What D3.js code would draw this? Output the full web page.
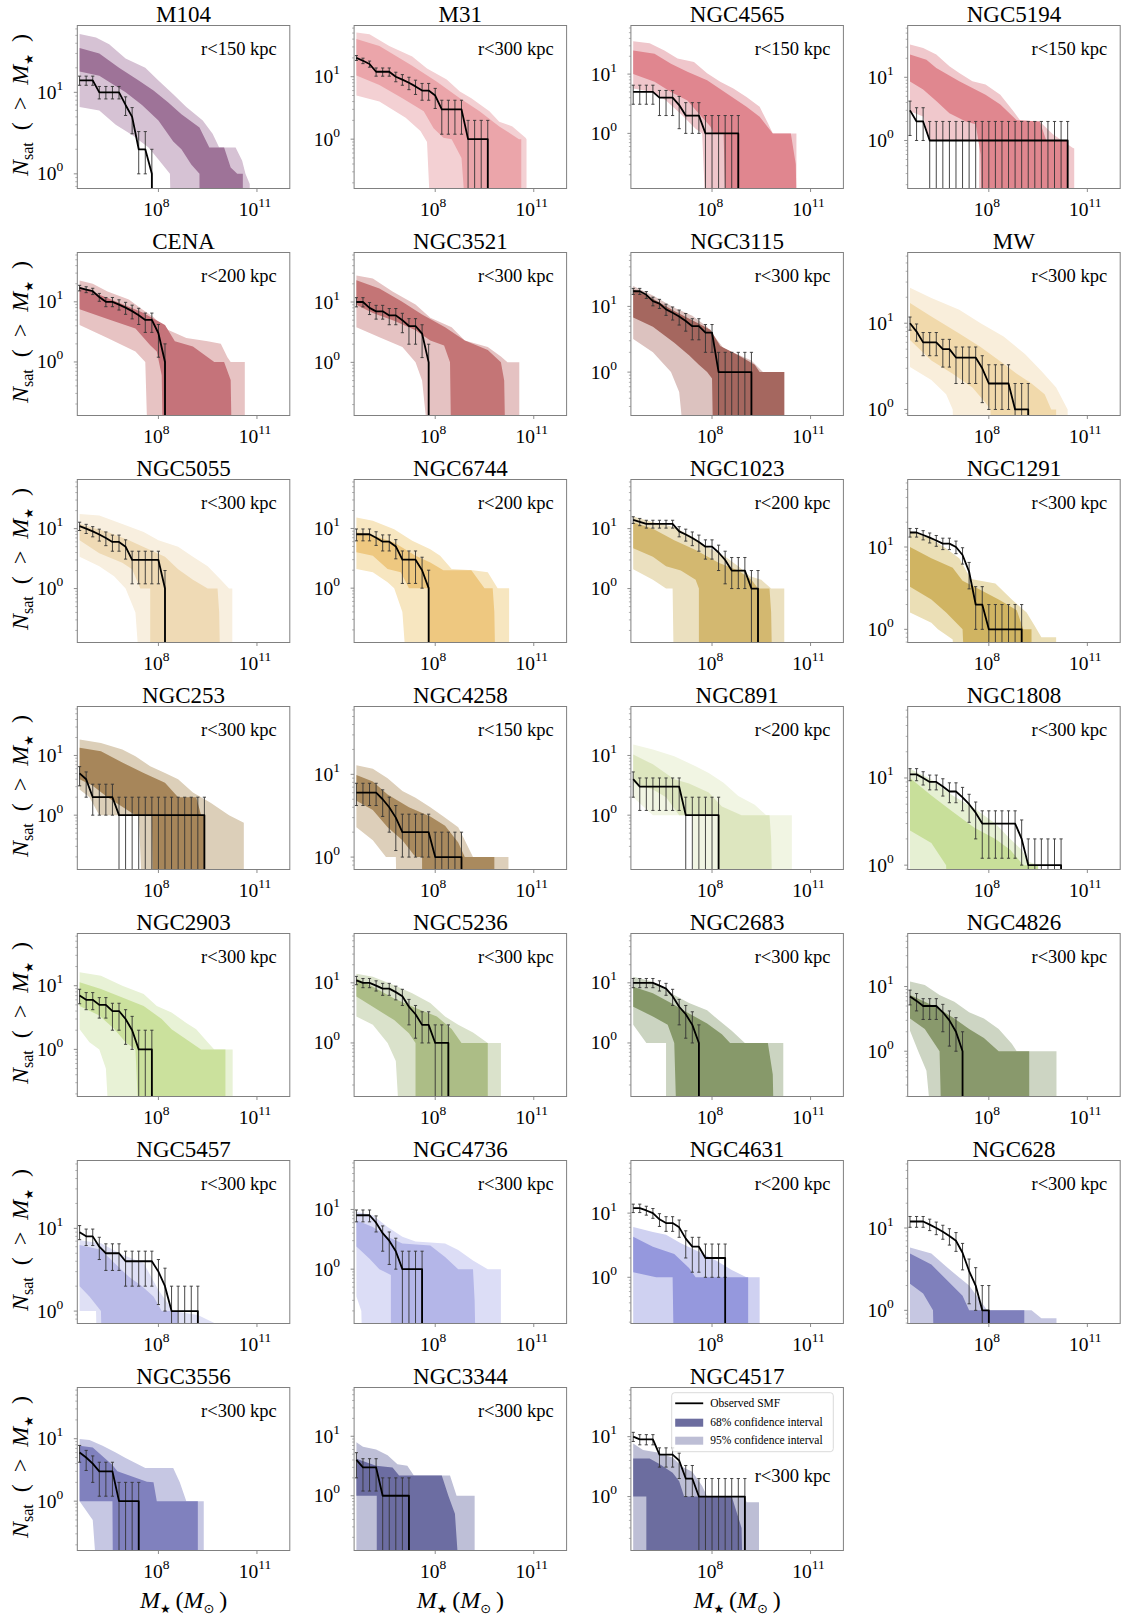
<!DOCTYPE html>
<html><head><meta charset="utf-8">
<script src="https://cdn.jsdelivr.net/npm/d3@7"></script>
<style>
body{margin:0;background:#fff}
svg{display:block}
text{font-family:"Liberation Serif","Times New Roman",serif;fill:#000}
</style>
</head><body>
<svg id="chart" width="1123" height="1616"></svg>
<script>
// ---------------- DATA ----------------
const names = ["M104","M31","NGC4565","NGC5194","CENA","NGC3521","NGC3115","MW",
  "NGC5055","NGC6744","NGC1023","NGC1291","NGC253","NGC4258","NGC891","NGC1808",
  "NGC2903","NGC5236","NGC2683","NGC4826","NGC5457","NGC4736","NGC4631","NGC628",
  "NGC3556","NGC3344","NGC4517"];
const radii = ["r<150 kpc","r<300 kpc","r<150 kpc","r<150 kpc","r<200 kpc","r<300 kpc","r<300 kpc","r<300 kpc",
  "r<300 kpc","r<200 kpc","r<200 kpc","r<300 kpc","r<300 kpc","r<150 kpc","r<200 kpc","r<300 kpc",
  "r<300 kpc","r<300 kpc","r<300 kpc","r<300 kpc","r<300 kpc","r<300 kpc","r<200 kpc","r<300 kpc",
  "r<300 kpc","r<300 kpc","r<300 kpc"];
// lower y-limit exponent (log10) per panel; upper limit shared
const yMinExp = [-0.18,-0.79,-0.93,-0.76,-0.89,-0.88,-0.66,-0.07,
  -0.90,-0.91,-0.90,-0.16,-0.91,-0.15,-0.91,-0.05,
  -0.74,-0.89,-0.89,-0.70,-0.15,-0.91,-0.72,-0.16,
  -0.79,-0.92,-0.90];
const yMaxExp = 1.82;
const xLimExp = [5.53, 12.0];
const xTickExps = [8, 11];
const yTickExps = [0, 1];

// stellar-mass grid (log10 M*) of the observed cumulative SMF
const obsLogM = [5.6,5.8,6.0,6.2,6.4,6.6,6.8,7.0,7.2,7.4,7.6,7.8,8.0,8.2,8.4,8.6,8.8,9.0,9.2,9.4,9.6,9.8,10.0,10.2,10.4,10.6,10.8,11.0];
// observed N_sat(>M*) on that grid (series ends where N drops to 0)
const obsN = [
  [14,14,14,10,10,10,10,7,5,2,2,1],
  [20,18,16,12,12,12,10,9,8,7,6,6,5,3,3,3,3,1,1,1,1],
  [5,5,5,5,4,4,4,3,2,2,2,1,1,1,1,1,1],
  [3,2,2,1,1,1,1,1,1,1,1,1,1,1,1,1,1,1,1,1,1,1,1,1,1],
  [17,16,15,12,10,10,9,8,7,6,5,5,3,1],
  [10,10,8,7,7,6,6,5,4,4,3,1],
  [17,17,15,12,11,9,8,7,6,5,5,4,4,1,1,1,1,1,1],
  [10,8,6,6,6,5,5,4,4,4,4,3,2,2,2,2,1,1,1],
  [11,10,9,8,7,6,6,5,3,3,3,3,3,1],
  [8,8,8,7,6,6,5,3,3,3,2,1],
  [14,13,12,12,12,12,12,9,8,7,6,5,5,4,3,2,2,2,1,1],
  [15,15,14,13,12,11,11,10,8,5,2,2,1,1,1,1,1,1],
  [5,4,2,2,2,2,1,1,1,1,1,1,1,1,1,1,1,1,1,1],
  [6,6,6,6,5,4,3,2,2,2,2,2,1,1,1,1,1],
  [4,3,3,3,3,3,3,3,1,1,1,1,1,1],
  [11,11,10,9,9,8,7,7,6,5,4,3,3,3,3,3,3,2,1,1,1,1,1,1],
  [7,6,6,5,5,4,4,3,2,1,1,1],
  [11,10,10,9,8,8,7,6,4,3,2,2,1,1,1],
  [10,10,10,10,9,8,6,4,3,2,1],
  [7,6,5,5,5,4,3,2,1],
  [9,8,8,6,5,5,5,4,4,4,4,4,3,2,1,1,1,1,1],
  [8,8,8,6,4,3,2,1,1,1,1],
  [12,12,11,10,8,7,7,6,4,3,3,2,2,2,2],
  [12,12,12,11,10,9,8,7,5,3,2,1,1],
  [6,5,4,3,3,3,1,1,1,1],
  [4,3,3,3,1,1,1,1,1],
  [10,9,9,9,5,5,5,4,2,2,1,1,1,1,1,1,1,1]
];
// error-bar extent, indexed by the observed count N (0..20)
const errLoByN = [0,0,1,1.2,2,3.1,4.2,5.2,6.2,7.3,8.3,9.3,10.2,11.2,12.2,13.2,14.2,15.2,16.2,17.2,18.2];
const errHiByN = [0,2,3.3,4.2,5.3,6.5,7.8,8.8,9.8,10.8,11.8,12.8,13.8,14.8,15.8,16.8,17.8,18.8,19.8,20.8,21.8];

// confidence-band edges: [log10 M*, N] (N = 0 -> below the axis)
const upper95 = [
  [[5.6,52],[6.1,47],[6.5,39],[7.0,26],[7.6,20],[8.0,14],[8.45,9.5],[8.85,6.6],[9.35,4.5],[9.65,3.1],[9.85,2.1],[10.35,2.1],[10.55,1.45],[10.65,1],[10.78,0.75]],
  [[5.6,51],[6.0,48],[6.6,31],[7.3,21],[7.75,13.5],[8.35,9],[8.75,5.8],[9.1,4.5],[9.65,2.8],[9.95,1.9],[10.35,1.6],[10.75,1.05],[10.78,1]],
  [[5.6,36],[6.1,33],[6.55,25],[6.95,18.4],[7.45,16],[7.85,10.3],[8.25,7.4],[8.65,5.7],[9.05,4.1],[9.45,2.8],[9.7,1.5],[9.85,1],[10.57,1]],
  [[5.6,33],[6.0,29],[6.4,23],[6.8,15],[7.1,11.7],[7.5,8.7],[7.9,7.7],[8.35,5.3],[8.75,2.9],[8.95,2.1],[9.55,2],[9.95,1.25],[10.55,0.77],[10.6,0.75]],
  [[5.6,22.7],[6.0,20],[6.45,14.8],[7.1,10.9],[7.5,7.5],[7.85,5.6],[8.2,3.6],[8.85,2.5],[9.5,2.2],[9.9,2],[10.1,1.2],[10.2,1],[10.63,1]],
  [[5.6,27.6],[6.1,24.4],[6.7,14.9],[7.4,9.1],[7.85,5.5],[8.5,3.8],[8.9,2.3],[9.6,1.8],[10.0,1.25],[10.2,1],[10.56,1]],
  [[5.6,20.4],[6.2,14.7],[6.85,9.5],[7.4,7.2],[7.85,4.9],[8.35,2.3],[9.2,1.5],[9.55,1],[10.2,1]],
  [[5.6,25.8],[6.25,19.6],[7.1,14.3],[7.75,10],[8.45,7],[9.1,4.4],[9.6,2.8],[10.05,1.8],[10.4,1]],
  [[5.6,17.6],[6.2,16.5],[6.9,12],[7.55,8.8],[8.0,6.4],[8.6,5],[9.05,3.4],[9.5,2.35],[9.9,1.4],[10.15,1],[10.25,1]],
  [[5.6,15.2],[6.1,13.4],[6.75,9.7],[7.3,6.2],[7.85,4.5],[8.15,3.5],[8.5,2.1],[9.15,2],[9.6,1.85],[9.9,1],[10.25,1]],
  [[5.6,15.9],[6.2,12.8],[6.85,10.6],[7.4,7.3],[7.85,5],[8.4,3.4],[8.8,2.35],[9.15,1.6],[9.5,1.4],[9.8,1],[10.2,1]],
  [[5.6,15.6],[6.25,12.5],[6.7,9.6],[7.1,7.3],[7.45,4.1],[8.2,3.6],[8.7,2.3],[9.15,1.6],[9.4,1.1],[9.6,0.8],[10.05,0.8]],
  [[5.6,18.5],[6.25,16.2],[6.9,12.6],[7.3,9.7],[7.75,6.6],[8.2,5.1],[8.6,4],[9.05,2.4],[9.6,1.6],[10.15,1],[10.6,0.75]],
  [[5.6,12.9],[6.1,11.7],[6.55,9],[7.0,6.3],[7.4,5.2],[7.85,4],[8.25,3.1],[8.7,2.3],[8.9,1.6],[9.15,1],[10.23,1]],
  [[5.6,15.2],[6.2,12.6],[6.85,9.7],[7.5,6.6],[7.9,5.1],[8.35,3.5],[8.8,2.1],[9.3,1.5],[9.65,1],[10.43,1]],
  [[5.6,12.8],[6.25,9.6],[6.9,6.3],[7.55,4.5],[8.2,3],[8.65,2],[9.0,1.5],[9.2,1.1],[9.5,1]],
  [[5.6,16.2],[6.25,14.4],[6.9,10],[7.55,7.4],[7.95,4.8],[8.4,3.8],[8.85,2.6],[9.15,2.07],[9.5,1.3],[9.7,1],[10.26,1]],
  [[5.6,14.2],[6.1,12.6],[6.75,9.1],[7.3,6.7],[7.85,4.6],[8.3,2.75],[8.7,2],[9.15,1.5],[9.6,1],[10.0,1]],
  [[5.6,12.6],[6.2,10.4],[6.75,6.7],[7.3,4.6],[7.85,3.5],[8.2,2.4],[8.6,1.6],[9.0,1],[10.17,1]],
  [[5.6,12],[6.05,10.6],[6.5,7.4],[6.95,5.8],[7.4,4],[7.85,3.2],[8.3,2.2],[8.7,1.3],[8.85,1],[10.06,1]],
  [[5.6,7.2],[6.25,6.6],[6.9,4.8],[7.55,3.8],[8.0,1.8],[8.45,1],[9.2,0.9],[9.7,0.72],[9.8,0.72]],
  [[5.6,9.1],[6.1,8],[6.55,5.1],[7.0,3.5],[7.4,2.9],[8.3,2.7],[8.7,2.1],[9.15,1.4],[9.6,1],[10.0,1]],
  [[5.6,6.1],[6.2,5.1],[6.6,4.6],[7.05,3.4],[7.6,2.5],[8.15,1.8],[8.6,1.3],[9.05,1],[9.45,1]],
  [[5.6,5.8],[6.25,4.9],[6.7,3.4],[7.1,2.5],[7.4,2],[7.95,1],[9.3,1],[9.6,0.8],[10.06,0.8]],
  [[5.6,9.9],[5.9,9.5],[6.3,7.7],[6.7,6],[7.0,4.9],[7.6,3.4],[8.45,3.4],[8.65,2],[8.85,1],[9.38,1]],
  [[5.6,7.9],[5.8,6.7],[6.2,6],[6.55,4.8],[6.85,3.4],[7.15,3.2],[7.35,2.2],[8.45,2.2],[8.65,1],[9.2,1]],
  [[5.6,7.7],[5.9,6],[6.3,5.5],[6.8,4.5],[7.1,3.1],[7.4,2.6],[7.7,1.5],[7.85,1],[9.0,1],[9.05,0.8],[9.43,0.8]]
];
const lower95 = [
  [[5.6,6.6],[6.2,6],[6.7,4],[7.2,3],[7.7,2.1],[8.0,1.5],[8.35,1],[8.4,0]],
  [[5.6,5],[6.3,4],[7.1,2.2],[7.55,1.35],[7.75,0.9],[7.9,0]],
  [[5.6,5.7],[6.2,5],[6.6,3.6],[7.1,2],[7.5,1.2],[7.7,1],[7.85,0]],
  [[5.6,2.9],[6.0,2.4],[6.2,1],[7.7,1],[7.7,0]],
  [[5.6,4.1],[6.45,2.5],[7.3,1.5],[7.6,1],[7.7,0]],
  [[5.6,3.8],[6.3,2.6],[7.0,1.8],[7.4,1],[7.6,0.5],[7.9,0]],
  [[5.6,3.2],[6.2,2],[6.75,1],[7.0,0.5],[7.25,0]],
  [[5.6,3.1],[6.25,2.2],[6.7,1.5],[6.9,1],[6.95,0]],
  [[5.6,3.4],[6.2,2.35],[6.65,1.6],[7.0,1],[7.3,0.4],[7.5,0]],
  [[5.6,2.1],[6.1,1.85],[6.55,1.26],[6.75,1],[7.0,0.4],[7.2,0]],
  [[5.6,2.1],[6.2,1.4],[6.6,1],[6.8,1],[6.85,0]],
  [[5.6,1.6],[6.25,1.2],[6.45,1],[6.9,0.75],[7.0,0]],
  [[5.6,2.7],[5.9,2],[6.2,1],[7.4,1],[7.55,0]],
  [[5.6,2.3],[6.1,1.6],[6.5,1],[6.8,1],[6.85,0]],
  [[5.6,2],[6.2,1],[7.4,1],[7.45,0]],
  [[5.6,0]],
  [[5.6,2.07],[5.9,1.3],[6.2,1],[6.4,0.5],[6.55,0]],
  [[5.6,2.75],[6.1,2],[6.55,1],[6.8,0.5],[6.97,0]],
  [[5.6,2],[6.0,1],[6.6,1],[6.6,0]],
  [[5.6,2.07],[5.85,1],[6.1,0.5],[6.35,0]],
  [[5.6,1],[6.1,1],[6.15,0]],
  [[5.6,0.35],[5.75,0.2],[5.8,0]],
  [[5.6,0]],
  [[5.6,0]],
  [[5.6,1],[6.0,0.5],[6.2,0]],
  [[5.6,0]],
  [[5.6,0]]
];
const upper68 = [
  [[5.6,35],[6.2,30],[6.8,20],[7.4,14],[7.85,10.5],[8.3,7.5],[8.7,5.4],[9.25,3.7],[9.55,2.1],[10.0,2.1],[10.2,1.2],[10.4,1],[10.57,1]],
  [[5.6,40],[6.3,31],[7.3,15],[8.05,8.3],[8.75,4.5],[9.35,2.8],[9.95,1.6],[10.55,1],[10.62,1]],
  [[5.6,25],[6.25,22],[6.75,15],[7.25,11],[7.85,7.9],[8.45,4.7],[9.05,2.8],[9.45,1.9],[9.85,1],[10.4,1],[10.55,0.3],[10.6,0]],
  [[5.6,23],[6.1,19],[6.4,14],[7.1,8.7],[7.9,5.3],[8.35,3.7],[8.85,2.1],[9.55,2],[9.75,1],[10.4,1]],
  [[5.6,17.8],[6.45,11.6],[7.5,6.7],[8.2,4.1],[8.5,2.2],[9.05,1.8],[9.7,1],[10.0,1],[10.2,0.5],[10.25,0]],
  [[5.6,23],[6.3,16.8],[6.97,10.3],[7.6,6.2],[8.3,3.8],[8.9,2.3],[9.6,1.6],[10.0,1],[10.1,0.5],[10.15,0]],
  [[5.6,18.3],[6.2,13.1],[6.85,8.5],[7.5,5.8],[7.95,4.4],[8.25,2.5],[8.8,1.8],[9.3,1.3],[9.45,1],[10.2,1]],
  [[5.6,17.2],[6.25,12],[7.1,7.6],[7.75,5.3],[8.45,3.4],[8.85,2.6],[9.3,2],[9.7,1.5],[9.9,1],[10.05,1]],
  [[5.6,12],[6.45,8.8],[7.1,6.4],[7.75,4.4],[8.2,3.4],[8.6,2.1],[9.05,1.4],[9.5,1],[9.8,1],[9.85,0.4],[9.9,0]],
  [[5.6,8.6],[6.1,7.6],[6.75,5.8],[7.4,3.5],[7.85,2.7],[8.25,2],[9.1,2],[9.5,1],[9.75,1],[9.8,0.4],[9.85,0]],
  [[5.6,12.8],[6.2,10],[6.85,6.4],[7.5,4.4],[8.2,2.7],[8.8,2],[9.2,1.4],[9.4,1],[9.75,1],[9.8,0.4],[9.85,0]],
  [[5.6,10],[6.25,7.3],[6.9,5.6],[7.2,3.9],[7.75,3],[8.3,2.3],[8.85,1.7],[9.05,1],[9.3,1]],
  [[5.6,13.4],[6.25,11.8],[6.9,7.6],[7.55,5.1],[8.2,3.5],[8.6,2],[9.15,2],[9.3,1],[9.4,1]],
  [[5.6,9.8],[6.1,8.2],[6.55,5.7],[7.2,4],[7.85,3.1],[8.3,2.4],[8.7,1.5],[8.9,1],[9.8,1]],
  [[5.6,10.4],[6.2,7.1],[6.85,4],[7.3,3.4],[7.9,2.4],[8.3,1.4],[8.9,1],[9.75,1],[9.8,0.4],[9.85,0]],
  [[5.6,10],[6.25,6.3],[6.9,4.1],[7.55,2.7],[8.2,2],[8.65,1.5],[9.05,1],[9.5,1]],
  [[5.6,11.3],[6.25,8.9],[6.9,6.5],[7.55,4.8],[8.1,3],[8.4,2.07],[9.3,1],[10.04,1]],
  [[5.6,11.8],[6.1,8.6],[6.75,5.5],[7.4,3.8],[8.05,2.75],[8.5,1.7],[8.8,1],[9.6,1]],
  [[5.6,8.6],[6.2,6.7],[6.75,4.6],[7.3,3.1],[7.85,2.1],[8.3,1.4],[8.55,1],[9.7,1],[9.85,0.3],[9.9,0]],
  [[5.6,7.4],[6.05,5.8],[6.5,4.5],[6.95,3.2],[7.4,2.2],[7.85,1.6],[8.3,1],[9.23,1]],
  [[5.6,6.3],[6.25,5.5],[6.66,3.8],[7.1,2.6],[7.5,2],[7.85,1.5],[8.1,1],[8.6,1]],
  [[5.6,6.6],[6.1,5.1],[6.55,3.5],[7.0,2.7],[7.85,2.5],[8.3,1.6],[8.7,1],[9.15,1],[9.2,0.3],[9.25,0]],
  [[5.6,4.3],[6.2,3],[6.85,2.3],[7.3,1.4],[7.5,1],[9.1,1]],
  [[5.6,4.9],[6.25,3.6],[7.2,1.5],[7.4,1],[9.08,1]],
  [[5.6,7.7],[6.0,7.2],[6.6,3.8],[6.75,3],[7.65,2.05],[7.85,2],[7.95,1],[9.2,1]],
  [[5.6,4.2],[6.2,3.2],[6.7,3],[6.9,2.2],[8.2,2.2],[8.4,1],[8.6,0.5],[8.8,0]],
  [[5.6,4.3],[6.1,4.3],[6.4,3.5],[6.8,2.5],[7.0,1.8],[7.15,1],[8.6,1],[8.9,0.3],[8.95,0]]
];
const lower68 = [
  [[5.6,18],[6.2,16],[7.0,10],[7.5,7],[8.0,4.5],[8.45,2.5],[8.7,2],[9.0,1.3],[9.25,1],[9.25,0]],
  [[5.6,10.5],[6.3,7.4],[7.0,4.5],[7.65,2.8],[7.95,1.5],[8.25,1.05],[8.5,1],[8.8,0.5],[9.0,0]],
  [[5.6,10],[6.25,7.4],[6.75,5],[7.25,3.6],[7.65,2],[7.95,1.3],[8.05,1],[8.35,1],[8.45,0]],
  [[5.6,8.6],[6.0,6.4],[6.4,4.2],[6.8,2.7],[7.3,2],[7.6,1.8],[7.75,0.6],[7.8,0]],
  [[5.6,7.5],[6.45,5.2],[7.3,3.6],[7.75,1.9],[7.95,1.5],[8.1,0.6],[8.15,0]],
  [[5.6,9],[6.1,6.6],[6.75,4.9],[7.4,3.4],[7.85,2.3],[8.27,1.9],[8.45,1],[8.5,0]],
  [[5.6,6.8],[6.2,4.9],[6.85,2.8],[7.3,1.8],[7.6,1.3],[7.85,1],[8.0,0.8],[8.05,0]],
  [[5.6,6.4],[6.25,3.7],[6.9,2.6],[7.5,1.8],[7.9,1.2],[8.05,1],[8.1,0]],
  [[5.6,6.4],[6.2,3.9],[6.9,2.7],[7.2,2.1],[7.45,1],[7.75,1],[7.75,0]],
  [[5.6,4],[6.1,3.5],[6.55,2.1],[6.95,1.85],[7.2,1],[7.8,1],[7.8,0]],
  [[5.6,4.7],[6.2,3.4],[6.6,2.35],[7.05,2],[7.5,1.4],[7.6,1],[7.6,0]],
  [[5.6,3.3],[6.25,2.3],[6.7,1.6],[7.2,1],[7.3,0]],
  [[5.6,4],[6.0,3.1],[6.45,2],[7.3,1],[7.8,1],[7.85,0]],
  [[5.6,4.8],[6.1,3.7],[6.55,2.3],[7.0,1.6],[7.4,1],[7.6,1],[7.6,0]],
  [[5.6,3.5],[6.2,2.7],[6.6,2],[7.0,1],[8.2,1],[8.25,0]],
  [[5.6,2.5],[6.25,1.8],[6.7,1],[6.75,0]],
  [[5.6,4.8],[6.2,3.4],[6.65,2.1],[7.0,1.3],[7.3,1],[7.45,0]],
  [[5.6,5.9],[6.1,4],[6.75,2.4],[7.2,1.45],[7.4,1],[7.4,0]],
  [[5.6,4],[6.2,2.75],[6.65,2],[6.85,1],[6.95,0]],
  [[5.6,3.2],[6.05,2.2],[6.5,1],[6.58,0]],
  [[5.6,2],[5.9,1.5],[6.25,1],[6.3,0]],
  [[5.6,2.4],[6.0,1.5],[6.3,1],[6.65,0.8],[6.65,0]],
  [[5.6,1.2],[6.3,1],[6.8,1],[6.85,0]],
  [[5.6,2.1],[6.0,1.6],[6.3,1],[6.35,0]],
  [[5.6,1],[6.6,1],[6.62,0]],
  [[5.6,1],[6.22,1],[6.22,0]],
  [[5.6,1],[6.0,1],[6.0,0]]
];
const darkColors = ["#9e7398","#eba5aa","#e0868f","#e0878f","#c5737a","#c47576","#a5675f","#f1d9ab",
  "#efdab5","#eec880","#d3b870","#d0b462","#a7865a","#a98a5e","#dde6bf","#c8df9a",
  "#cbe19d","#acbd86","#87996a","#89996c","#babbe8","#b4b6e8","#9598dd","#7f80bc",
  "#8081be","#6c6da2","#6c6d9f"];
const lightColors = ["#d6c2d4","#f3d0d3","#efc6cb","#f0c8cc","#e7c3c3","#e5c2c2","#dcc2bf","#f9eedb",
  "#f8efdf","#f7e6c0","#ebe0bf","#ebdfb6","#dccfb9","#ddcfba","#f1f5e3","#e6f0d3",
  "#e8f2d6","#dae2cb","#cbd4c1","#cdd5c3","#dfe0f5","#dcddf6","#cfd1f1","#c6c7e2",
  "#c6c7e3","#bebfd7","#bdbed5"];
const legendLabels = ["Observed SMF","68% confidence interval","95% confidence interval"];

// ---------------- LAYOUT ----------------
const W = 212.5, H = 163;
const colLeft = [77.3, 354.1, 630.9, 907.7];
const rowTop = [25.5, 252.5, 479.5, 706.5, 933.5, 1160.5, 1387.5];
const svg = d3.select("#chart");
const defs = svg.append("defs");

names.forEach((name, i) => {
  const r = Math.floor(i / 4), c = i % 4;
  const g = svg.append("g").attr("transform", `translate(${colLeft[c]},${rowTop[r]})`);
  const x = d3.scaleLog().domain([10 ** xLimExp[0], 10 ** xLimExp[1]]).range([0, W]);
  const y = d3.scaleLog().domain([10 ** yMinExp[i], 10 ** yMaxExp]).range([H, 0]);
  const yv = v => v > 0 ? Math.min(y(v), H + 60) : H + 60;

  defs.append("clipPath").attr("id", "clip" + i)
    .append("rect").attr("x", 0).attr("y", 0).attr("width", W).attr("height", H);
  const pg = g.append("g").attr("clip-path", `url(#clip${i})`);

  const line = d3.line().x(d => x(10 ** d[0])).y(d => yv(d[1]));
  function band(up, lo, color) {
    const pts = up.concat([[up[up.length - 1][0], 0]]).concat(lo.slice().reverse());
    pg.append("path").attr("d", line(pts) + "Z").attr("fill", color).attr("stroke", "none");
  }
  band(upper95[i], lower95[i], lightColors[i]);
  band(upper68[i], lower68[i], darkColors[i]);

  // error bars
  const obs = obsN[i];
  obs.forEach((n, k) => {
    if (n <= 0) return;
    const xx = x(10 ** obsLogM[k]);
    const y1 = yv(errLoByN[n]), y2 = yv(errHiByN[n]);
    pg.append("line").attr("x1", xx).attr("x2", xx).attr("y1", y1).attr("y2", y2)
      .attr("stroke", "#333").attr("stroke-width", 0.9);
    [y1, y2].forEach(yy => {
      if (yy < H) pg.append("line").attr("x1", xx - 1.6).attr("x2", xx + 1.6)
        .attr("y1", yy).attr("y2", yy).attr("stroke", "#333").attr("stroke-width", 0.9);
    });
  });
  // observed SMF line
  const lpts = obs.map((n, k) => [obsLogM[k], n]);
  lpts.push([obsLogM[obs.length - 1], 0]);
  pg.append("path").attr("d", line(lpts)).attr("fill", "none")
    .attr("stroke", "#000").attr("stroke-width", 1.8).attr("stroke-linejoin", "round");

  // frame
  g.append("rect").attr("x", 0).attr("y", 0).attr("width", W).attr("height", H)
    .attr("fill", "none").attr("stroke", "#808080").attr("stroke-width", 1);

  // y ticks
  const lo = yMinExp[i], hi = yMaxExp;
  for (let e = Math.floor(lo); e <= Math.ceil(hi); e++) {
    for (let m = 1; m <= 9; m++) {
      const v = m * 10 ** e;
      if (Math.log10(v) < lo || Math.log10(v) > hi) continue;
      const yy = y(v);
      g.append("line").attr("x1", m === 1 ? -3.5 : -2).attr("x2", 0).attr("y1", yy).attr("y2", yy)
        .attr("stroke", "#808080").attr("stroke-width", m === 1 ? 0.9 : 0.6);
    }
  }
  yTickExps.forEach(e => {
    if (e < lo || e > hi) return;
    const yy = y(10 ** e);
    const t = g.append("text").attr("x", -14).attr("y", yy + 6.5).attr("text-anchor", "end")
      .attr("font-size", 19.5);
    t.append("tspan").text("10");
    t.append("tspan").attr("font-size", 13.5).attr("dy", -9).text(e);
  });
  // x ticks
  xTickExps.forEach(e => {
    const xx = x(10 ** e);
    g.append("line").attr("x1", xx).attr("x2", xx).attr("y1", H).attr("y2", H + 3.5)
      .attr("stroke", "#808080").attr("stroke-width", 0.9);
    const t = g.append("text").attr("x", xx - 2).attr("y", H + 27).attr("text-anchor", "middle")
      .attr("font-size", 19.5);
    t.append("tspan").text("10");
    t.append("tspan").attr("font-size", 13.5).attr("dy", -9).text(e);
  });

  // title
  g.append("text").attr("x", W / 2).attr("y", -3.5).attr("text-anchor", "middle")
    .attr("font-size", 23).text(name);
  // radius annotation
  g.append("text").attr("x", W - 13).attr("y", name === "NGC4517" ? 94 : 29.5).attr("text-anchor", "end")
    .attr("font-size", 18.5).text(radii[i]);

  // y label
  if (c === 0) {
    const t = g.append("text").attr("transform", `translate(${-49},${H / 2 - 2}) rotate(-90)`)
      .attr("text-anchor", "middle").attr("font-size", 24);
    t.append("tspan").attr("font-style", "italic").text("N");
    t.append("tspan").attr("font-size", 16).attr("dy", 5).text("sat");
    t.append("tspan").attr("dy", -5).text("\u2002(\u2002>\u2002");
    t.append("tspan").attr("font-style", "italic").text("M");
    t.append("tspan").attr("font-size", 12).attr("dy", 5).attr("font-family", "DejaVu Sans").text("\u2605");
    t.append("tspan").attr("dy", -5).text("\u2002)");
  }
  // x label
  if (r === 6) {
    const t = g.append("text").attr("x", W / 2).attr("y", H + 57).attr("text-anchor", "middle")
      .attr("font-size", 24);
    t.append("tspan").attr("font-style", "italic").text("M");
    t.append("tspan").attr("font-size", 12).attr("dy", 5).attr("font-family", "DejaVu Sans").text("\u2605");
    t.append("tspan").attr("dy", -5).text("\u2009(");
    t.append("tspan").attr("font-style", "italic").text("M");
    t.append("tspan").attr("font-size", 13).attr("dy", 5).attr("font-family", "DejaVu Sans").text("\u2299");
    t.append("tspan").attr("dy", -5).text("\u2009)");
  }

  // legend
  if (name === "NGC4517") {
    const lg = g.append("g").attr("transform", `translate(${671.7 - colLeft[c]},${1392.7 - rowTop[r]})`);
    lg.append("rect").attr("x", 0).attr("y", 0).attr("width", 161.6).attr("height", 59).attr("rx", 3)
      .attr("fill", "#fff").attr("fill-opacity", 0.8).attr("stroke", "#d0d0d0").attr("stroke-width", 0.8);
    lg.append("line").attr("x1", 3.5).attr("x2", 31.5).attr("y1", 10.6).attr("y2", 10.6)
      .attr("stroke", "#000").attr("stroke-width", 1.8);
    lg.append("rect").attr("x", 3.5).attr("y", 26).attr("width", 28).attr("height", 8).attr("fill", darkColors[i]);
    lg.append("rect").attr("x", 3.5).attr("y", 44).attr("width", 28).attr("height", 8).attr("fill", lightColors[i]);
    legendLabels.forEach((lab, k) => {
      lg.append("text").attr("x", 38.5).attr("y", 14.5 + k * 18.5).attr("font-size", 11.5).text(lab);
    });
  }
});
</script>
</body></html>
